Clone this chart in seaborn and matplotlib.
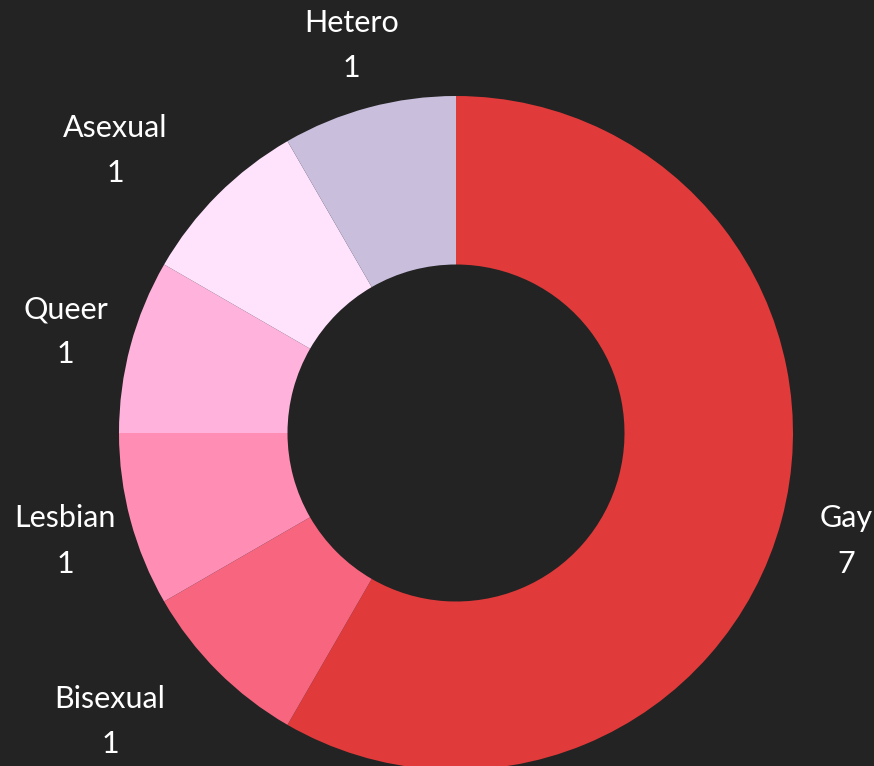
import matplotlib
matplotlib.use("Agg")
import matplotlib.pyplot as plt
import seaborn as sns
import numpy as np

categories = ["Gay", "Bisexual", "Lesbian", "Queer", "Asexual", "Hetero"]
values = [7, 1, 1, 1, 1, 1]
colors = ["#E03A3A", "#F7657F", "#FF8DB4", "#FFB3DC", "#FFE3FD", "#C9BFDD"]

bg = "#232323"
sns.set_theme(style="white")
plt.rcParams["font.family"] = ["Lato", "DejaVu Sans"]

W, H = 874, 766
fig = plt.figure(figsize=(W / 100, H / 100), dpi=100, facecolor=bg)
ax = fig.add_axes([0, 0, 1, 1])
ax.set_facecolor(bg)

cx, cy, R = 456, 433, 337

wedges, _ = ax.pie(values, colors=colors, startangle=90, counterclock=False,
                   radius=1.0, wedgeprops=dict(width=0.5, linewidth=0))

ax.set_aspect("auto")
ax.set_xlim(-cx / R, (W - cx) / R)
ax.set_ylim(-(H - cy) / R, cy / R)
ax.axis("off")

# label placement tweaks (radius factor, angle shift in degrees) for diagonal labels
tweaks = {"Asexual": (1.32, 5.0), "Bisexual": (1.33, -5.5)}

for w, name, v in zip(wedges, categories, values):
    rf, da = tweaks.get(name, (1.2, 0.0))
    ang = np.deg2rad((w.theta1 + w.theta2) / 2 + da)
    x, y = rf * np.cos(ang), rf * np.sin(ang) - 0.01
    ax.text(x, y, f"{name}\n{v}", ha="center", va="center", color="white",
            fontsize=22, linespacing=1.75)

fig.savefig("out.png", dpi=100, facecolor=bg)
